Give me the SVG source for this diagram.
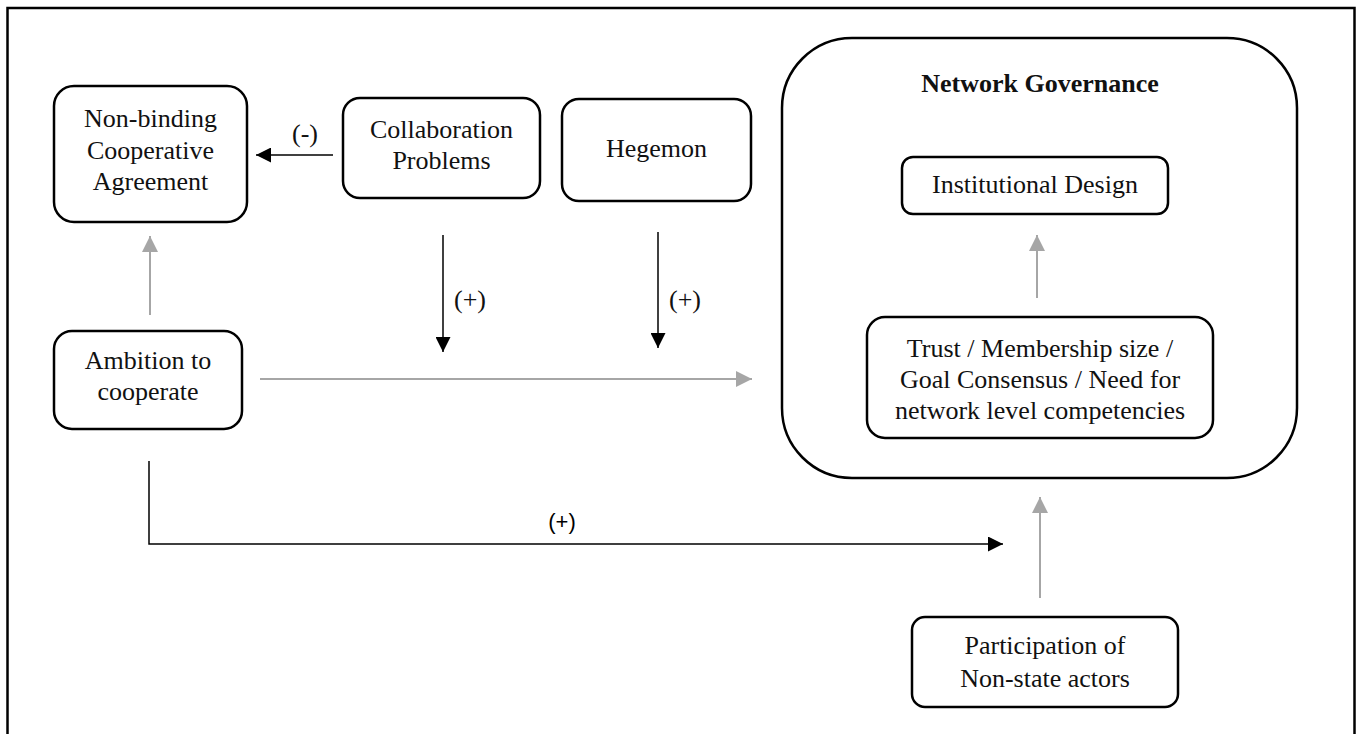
<svg xmlns="http://www.w3.org/2000/svg" width="1357" height="734" viewBox="0 0 1357 734">
  <defs>
    <marker id="headBlack" viewBox="0 0 10 10" refX="10" refY="5" markerWidth="15" markerHeight="15" markerUnits="userSpaceOnUse" orient="auto">
      <path d="M0,0 L10,5 L0,10 Z" fill="#000"/>
    </marker>
    <marker id="headGray" viewBox="0 0 10 10" refX="10" refY="5" markerWidth="16" markerHeight="16" markerUnits="userSpaceOnUse" orient="auto">
      <path d="M0,0 L10,5 L0,10 Z" fill="#a6a6a6"/>
    </marker>
    <style>
      .box { fill: #fff; stroke: #000; stroke-width: 2.5; }
      .lbl { font-family: "Liberation Serif", "Times New Roman", serif; font-size: 26px; fill: #111; text-anchor: middle; }
      .title { font-weight: bold; }
      .sign { font-family: "Liberation Sans", Arial, sans-serif; font-size: 22px; fill: #000; text-anchor: middle; }
      .dark { fill: none; stroke: #000; stroke-width: 1.5; }
      .light { fill: none; stroke: #a6a6a6; stroke-width: 2; }
    </style>
  </defs>

  <rect width="1357" height="734" fill="#fff"/>
  <!-- page frame, open at the bottom edge -->
  <rect x="7.5" y="8" width="1347" height="760" fill="none" stroke="#000" stroke-width="2.5"/>

  <g id="network-governance">
    <rect class="box" x="782" y="38" width="515" height="440" rx="70" ry="70"/>
    <text class="lbl title" x="1040" y="92">Network Governance</text>
  </g>

  <g id="institutional-design">
    <rect class="box" x="902" y="157" width="266" height="57" rx="11" ry="11"/>
    <text class="lbl" x="1035" y="193">Institutional Design</text>
  </g>

  <g id="network-factors">
    <rect class="box" x="867" y="317" width="346" height="121" rx="18" ry="18"/>
    <text class="lbl" x="1040" y="357">Trust / Membership size /</text>
    <text class="lbl" x="1040" y="388">Goal Consensus / Need for</text>
    <text class="lbl" x="1040" y="419">network level competencies</text>
  </g>

  <g id="non-binding-agreement">
    <rect class="box" x="54" y="86" width="193" height="136" rx="20" ry="20"/>
    <text class="lbl" x="150.5" y="127">Non-binding</text>
    <text class="lbl" x="150.5" y="159">Cooperative</text>
    <text class="lbl" x="150.5" y="190">Agreement</text>
  </g>

  <g id="collaboration-problems">
    <rect class="box" x="343" y="98" width="197" height="100" rx="17" ry="17"/>
    <text class="lbl" x="441.5" y="138">Collaboration</text>
    <text class="lbl" x="441.5" y="169">Problems</text>
  </g>

  <g id="hegemon">
    <rect class="box" x="562" y="99" width="189" height="102" rx="17" ry="17"/>
    <text class="lbl" x="656.5" y="157">Hegemon</text>
  </g>

  <g id="ambition">
    <rect class="box" x="54" y="331" width="188" height="98" rx="18" ry="18"/>
    <text class="lbl" x="148" y="369">Ambition to</text>
    <text class="lbl" x="148" y="400">cooperate</text>
  </g>

  <g id="non-state-actors">
    <rect class="box" x="912" y="617" width="266" height="90" rx="13" ry="13"/>
    <text class="lbl" x="1045" y="654">Participation of</text>
    <text class="lbl" x="1045" y="687">Non-state actors</text>
  </g>

  <g id="connectors">
    <!-- collaboration problems to agreement, negative -->
    <line class="dark" x1="333" y1="155" x2="256" y2="155" marker-end="url(#headBlack)"/>
    <text class="lbl" x="305" y="142">(-)</text>

    <!-- moderating effects on the ambition link -->
    <line class="dark" x1="443" y1="235" x2="443" y2="352" marker-end="url(#headBlack)"/>
    <text class="lbl" x="470" y="308">(+)</text>
    <line class="dark" x1="658" y1="232" x2="658" y2="348" marker-end="url(#headBlack)"/>
    <text class="lbl" x="685" y="308">(+)</text>

    <!-- ambition to agreement and to network governance -->
    <line class="light" x1="150" y1="315" x2="150" y2="236" marker-end="url(#headGray)"/>
    <line class="light" x1="260" y1="379" x2="752" y2="379" marker-end="url(#headGray)"/>

    <!-- factors to institutional design -->
    <line class="light" x1="1037" y1="298" x2="1037" y2="235" marker-end="url(#headGray)"/>

    <!-- non-state actors to network governance -->
    <line class="light" x1="1040" y1="598" x2="1040" y2="497" marker-end="url(#headGray)"/>

    <!-- ambition to non-state participation -->
    <path class="dark" d="M149,461 V544 H1003" marker-end="url(#headBlack)"/>
    <text class="sign" x="562" y="529">(+)</text>
  </g>
</svg>
